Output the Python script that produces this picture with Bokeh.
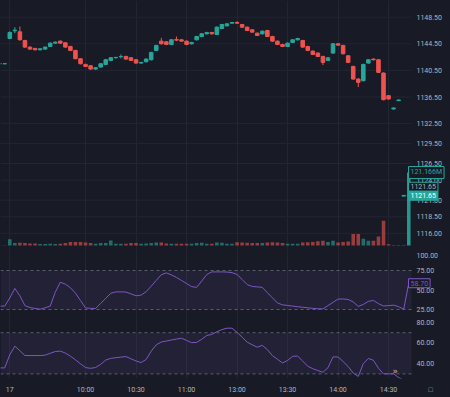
from bokeh.plotting import figure
from bokeh.layouts import column
from bokeh.models import (Range1d, FixedTicker, Label, BoxAnnotation, ColumnDataSource)
from bokeh.core.properties import value
from bokeh.embed import file_html
from bokeh.resources import INLINE

# ---------------- data ----------------
bar_index = list(range(-2, 80))

opens = [1141.5, 1141.5,
         1145.3, 1146.45, 1146.3, 1145.0, 1144.0, 1143.8, 1143.6, 1143.7, 1144.1, 1144.6,
         1144.9, 1144.65, 1144.1, 1143.5, 1142.25, 1141.4, 1141.2, 1140.7, 1141.0, 1141.4,
         1142.0, 1142.4, 1142.55, 1142.6, 1142.4, 1142.1, 1141.6, 1141.8, 1142.1, 1143.5,
         1144.9, 1144.8, 1144.4, 1145.15, 1145.1, 1144.9, 1144.5, 1145.1, 1145.6, 1146.0,
         1146.2, 1145.9, 1146.8, 1147.2, 1147.6, 1147.7, 1147.4, 1147.0, 1146.6, 1146.1,
         1146.0, 1146.5, 1145.6, 1144.9, 1144.4, 1144.1, 1144.7, 1145.1, 1145.0, 1144.1,
         1143.4, 1143.1, 1142.6, 1142.0, 1143.1, 1144.5, 1144.25, 1142.7, 1141.1, 1139.2,
         1138.95, 1141.6, 1142.2, 1142.1, 1140.1, 1136.7, 1134.7, 1135.95, 1121.6, 1121.6]

closes = [1141.5, 1141.5,
          1146.2, 1146.55, 1145.1, 1144.0, 1143.7, 1143.6, 1143.75, 1144.0, 1144.6, 1144.75,
          1144.6, 1144.0, 1143.5, 1142.25, 1141.5, 1141.1, 1140.7, 1140.9, 1141.5, 1142.1,
          1142.4, 1142.45, 1142.6, 1142.2, 1142.0, 1141.6, 1141.7, 1142.2, 1143.2, 1144.25,
          1144.5, 1144.4, 1145.1, 1145.05, 1144.9, 1144.4, 1144.7, 1145.6, 1146.0, 1146.2,
          1146.0, 1147.0, 1147.4, 1147.5, 1147.7, 1147.6, 1147.0, 1146.5, 1146.25, 1145.75,
          1146.4, 1145.6, 1144.9, 1144.4, 1144.1, 1144.6, 1145.1, 1145.3, 1144.0, 1143.5,
          1142.9, 1142.6, 1141.7, 1142.4, 1144.5, 1144.3, 1143.0, 1141.7, 1139.2, 1138.7,
          1141.4, 1142.1, 1142.1, 1140.2, 1136.1, 1136.2, 1134.85, 1136.05, 1121.7, 1121.65]

highs = [1141.55, 1141.55,
         1146.4, 1147.0, 1147.1, 1145.1, 1144.1, 1143.9, 1143.85, 1144.1, 1144.7, 1144.85,
         1145.0, 1144.75, 1144.2, 1143.6, 1142.3, 1141.5, 1141.3, 1141.0, 1141.6, 1142.2,
         1142.5, 1142.55, 1142.9, 1142.7, 1142.5, 1142.2, 1141.8, 1142.3, 1143.3, 1144.35,
         1145.4, 1144.9, 1145.2, 1145.6, 1145.2, 1145.0, 1144.8, 1145.7, 1146.1, 1146.3,
         1146.3, 1147.1, 1147.5, 1147.6, 1147.8, 1147.9, 1147.5, 1147.1, 1146.7, 1146.2,
         1146.5, 1146.6, 1145.7, 1145.0, 1144.5, 1144.7, 1145.2, 1145.4, 1145.1, 1144.2,
         1143.5, 1143.2, 1142.7, 1142.5, 1144.6, 1144.6, 1144.35, 1142.8, 1141.2, 1139.3,
         1141.5, 1142.2, 1142.3, 1142.2, 1140.2, 1136.8, 1134.9, 1136.1, 1121.75, 1121.75]

lows = [1141.45, 1141.45,
        1145.2, 1146.1, 1145.0, 1143.9, 1143.6, 1143.5, 1143.5, 1143.6, 1144.0, 1144.5,
        1144.5, 1143.9, 1143.4, 1142.2, 1141.4, 1141.0, 1140.6, 1140.6, 1140.9, 1141.3,
        1141.9, 1142.3, 1142.3, 1142.1, 1141.9, 1141.5, 1141.5, 1141.7, 1142.0, 1143.4,
        1144.4, 1144.3, 1144.3, 1144.9, 1144.8, 1144.3, 1144.4, 1145.0, 1145.5, 1145.9,
        1145.9, 1145.8, 1146.7, 1147.1, 1147.5, 1147.5, 1146.9, 1146.4, 1146.2, 1145.7,
        1145.9, 1145.5, 1144.8, 1144.3, 1144.0, 1144.0, 1144.6, 1145.0, 1143.9, 1143.4,
        1142.8, 1142.5, 1141.3, 1141.9, 1143.0, 1144.2, 1142.9, 1141.6, 1139.1, 1138.0,
        1138.85, 1141.5, 1142.0, 1140.1, 1136.0, 1136.1, 1134.6, 1135.9, 1121.55, 1121.55]

volumes_m = [0.5, 0.5,
             10.5, 4, 4.5, 4, 3.5, 3.5, 2.5, 2.5, 3, 2.5,
             3, 4, 6, 6, 6, 5, 4, 3, 4, 4,
             8.5, 3, 3, 3, 4, 4, 3, 3.5, 4, 5,
             5, 3.5, 3, 3, 3, 3, 3, 4, 4.5, 3,
             3, 5, 4.5, 3, 3, 5.5, 5, 4.5, 4, 4,
             4, 5, 5.5, 5, 4, 3, 3, 3, 5, 5.5,
             6, 7, 8, 6, 8, 5, 6, 6.5, 19, 19,
             11, 8, 8, 15, 41, 2, 1, 1, 0.8, 121.166]

osc1 = [29.4, 29.4,
        39.8, 52, 42.5, 30, 27.5, 26.4, 25.4, 27.3, 29.3, 47,
        60, 57.5, 53, 46, 36.5, 27, 26.5, 26.3, 32.8, 39.3,
        45.8, 47.6, 47.6, 47.4, 45, 42.6, 43.5, 47.8, 55, 62.3,
        69.6, 71.9, 69.4, 66.1, 62.2, 58.3, 54.3, 53.4, 61.5, 69.8,
        73.2, 73.2, 73.2, 73, 72.3, 69.9, 63.5, 57, 54.5, 54,
        53.4, 46.5, 40, 33.4, 31, 30.2, 29.4, 28.6, 27.9, 27.2,
        26.5, 25.9, 25.9, 30, 34.2, 38.4, 38.5, 37.9, 34.7, 29,
        31.5, 35.4, 36.6, 32.5, 29.5, 30, 30.6, 28.6, 25.4, 58.7]

osc2 = [35.8, 35.8,
        48.6, 56.9, 52.5, 47.8, 47.8, 47.8, 47.8, 48.2, 50, 51.7,
        52.1, 50.2, 47.2, 43.7, 39.8, 36.1, 35.4, 36.2, 39.3, 43.4,
        45.1, 45.7, 46.3, 46.8, 44.6, 42.5, 41, 44, 52.1, 58.2,
        61, 61.9, 62.9, 63.8, 64.6, 62.5, 60.3, 60.6, 63.6, 67.3,
        68.3, 70.9, 73, 74.4, 74.4, 70.4, 65.7, 60.8, 58.3, 55.9,
        57.7, 53.6, 47.7, 44.2, 40.6, 43, 47.1, 47.3, 42.4, 37.4,
        35, 33.2, 31.5, 36, 46.5, 46.4, 42, 37.1, 30.8, 27.5,
        40, 45, 43.2, 35.4, 30, 30, 30, 26.4, 24, 23]

time_ticks = [0, 15, 25, 35, 45, 55, 65, 75]
time_labels = ["17", "10:00", "10:30", "11:00", "13:00", "13:30", "14:00", "14:30"]
price_ticks = [1148.5, 1144.5, 1140.5, 1136.5, 1132.5, 1129.5, 1126.5, 1124.0, 1121.0, 1118.5, 1116.0]
osc1_ticks = [25, 50, 75, 100]
osc1_band = [25, 75]
osc2_ticks = [40, 60, 80]
osc2_band = [30, 70]
last_price = 1121.65
last_volume_label = "121.166M"
last_osc1_label = "58.70"

# ---------------- style / layout ----------------
BG = "#181b26"
GRID = "#222532"
UP = "#26a69a"
DOWN = "#ef5350"
TXT = "#b2b5be"
OSC = "#7e57c2"
BANDLINE = "#787b86"
FONT = "Roboto"
FS = "7px"
CHART_W = 411          # plotting area width (pixels)
FULL_W = 450           # including the price-scale strip
X0, X_CHART_END = -1.84, 79.54
px_per_bar = CHART_W / (X_CHART_END - X0)
X_FULL_END = X0 + FULL_W / px_per_bar

n = len(bar_index)
assert all(len(a) == n for a in (opens, closes, highs, lows, volumes_m, osc1, osc2))

colors = [UP if c >= o else DOWN for o, c in zip(opens, closes)]
src = ColumnDataSource(dict(
    x=bar_index, open=opens, close=closes, high=highs, low=lows,
    top=[max(o, c) for o, c in zip(opens, closes)],
    bot=[min(o, c) for o, c in zip(opens, closes)],
    color=colors, vol=volumes_m,
    valpha=[0.6] * (n - 1) + [0.9],
    osc1=osc1, osc2=osc2,
))

xr = Range1d(X0, X_FULL_END)


def base(fh, yr, bottom=0):
    p = figure(frame_width=FULL_W, frame_height=fh, x_range=xr, y_range=yr,
               y_axis_location=None,
               x_axis_location="below" if bottom else None,
               toolbar_location=None, output_backend="svg",
               min_border_left=0, min_border_right=0,
               min_border_top=0, min_border_bottom=bottom,
               background_fill_color=BG, border_fill_color=BG,
               outline_line_color=None)
    p.xgrid.ticker = FixedTicker(ticks=time_ticks)
    p.xgrid.grid_line_color = GRID
    p.ygrid.grid_line_color = None
    return p


def scale_labels(p, ticks, nudge=None):
    p.text(x=[X_CHART_END] * len(ticks), y=ticks, text=["%.2f" % t for t in ticks],
           x_offset=5, y_offset=nudge if nudge else 0,
           text_font=value(FONT), text_font_size=value(FS),
           text_color=TXT, text_align="left", text_baseline="middle")


def tag(p, y, text, fill, border, color, rn="default", dy=0):
    p.add_layout(Label(x=X_CHART_END, y=y, x_offset=-3, y_offset=dy, text=text,
                       y_range_name=rn, text_font=FONT, text_font_size=FS,
                       text_color=color, text_align="left", text_baseline="middle",
                       background_fill_color=fill, border_line_color=border,
                       border_line_width=1, padding=2))


def band(p, lo, hi):
    p.add_layout(BoxAnnotation(left=X0, right=X_CHART_END, bottom=lo, top=hi,
                               fill_color=OSC, fill_alpha=0.1, line_color=None))
    p.segment(x0=[X0, X0], x1=[X_CHART_END, X_CHART_END], y0=[lo, hi], y1=[lo, hi],
              line_color=BANDLINE, line_dash="3 3", line_alpha=0.7, line_width=1)


# ---- main price pane ----
p1 = base(250, Range1d(1113.42, 1151.01))
p1.segment(x0=[X0] * len(price_ticks), x1=[X_CHART_END] * len(price_ticks),
           y0=price_ticks, y1=price_ticks, line_color=GRID, line_width=1)
p1.extra_y_ranges = {"vol": Range1d(-8.3, 406.6)}
p1.vbar(x="x", width=0.7, bottom=0, top="vol", fill_color="color",
        fill_alpha="valpha", line_color=None, y_range_name="vol", source=src)
p1.segment(x0="x", y0="low", x1="x", y1="high", line_color="color",
           line_width=1, source=src)
p1.vbar(x="x", width=0.7, bottom="bot", top="top", fill_color="color",
        line_color="color", line_width=1, source=src)
scale_labels(p1, price_ticks)
tag(p1, volumes_m[-1], last_volume_label, BG, UP, UP, rn="vol")
tag(p1, last_price, "%.2f" % last_price, BG, UP, "#9fb8b5", dy=9)
tag(p1, last_price, "%.2f" % last_price, UP, UP, "#ffffff")

# ---- oscillator 1 ----
p2 = base(68, Range1d(13.5, 100.6))
band(p2, *osc1_band)
p2.line(x="x", y="osc1", line_color=OSC, line_width=1, source=src)
scale_labels(p2, osc1_ticks, nudge=[0, 0, 0, 5])
tag(p2, osc1[-1], last_osc1_label, BG, OSC, OSC)

# ---- oscillator 2 + time axis ----
p3 = base(60, Range1d(25.5, 83.8), bottom=19)
band(p3, *osc2_band)
p3.line(x="x", y="osc2", line_color=OSC, line_width=1, source=src)
scale_labels(p3, osc2_ticks)
p3.add_layout(Label(x=76.3, y=33.2, text="»", text_font="DejaVu Sans",
                    text_font_size="9px", text_color=TXT,
                    text_align="center", text_baseline="middle"))

icon_pos = X_CHART_END + 19 / px_per_bar
xa = p3.xaxis[0]
xa.ticker = FixedTicker(ticks=time_ticks + [icon_pos])
overrides = {t: l for t, l in zip(time_ticks, time_labels)}
overrides[icon_pos] = "□"
xa.major_label_overrides = overrides
xa.axis_line_color = None
xa.major_tick_line_color = None
xa.minor_tick_line_color = None
xa.major_label_text_font = FONT
xa.major_label_text_font_size = FS
xa.major_label_text_color = TXT
xa.major_label_standoff = 1

layout = column(p1, p2, p3, spacing=0, background=BG)
open("out.html", "w").write(file_html(layout, INLINE))
